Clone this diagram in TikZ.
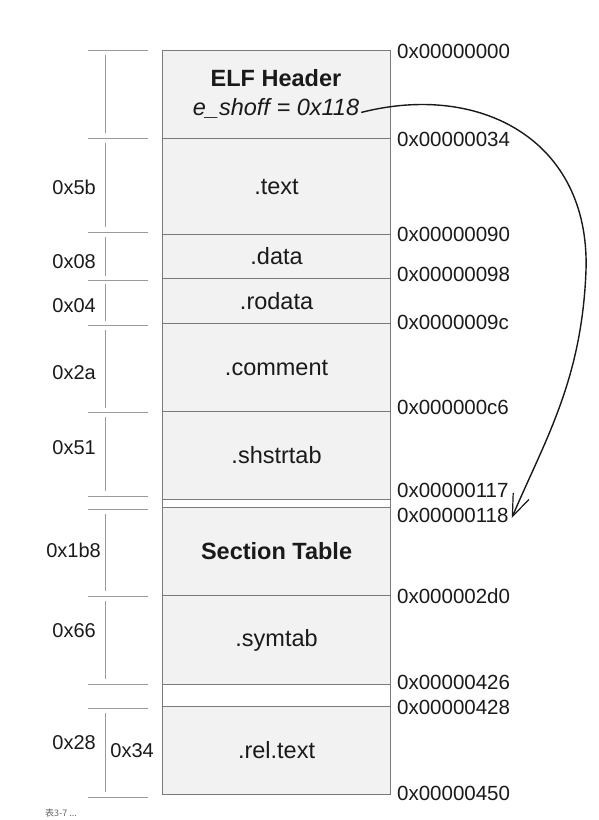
\documentclass[tikz,border=0pt]{standalone}
\usepackage{fontspec}
\setmainfont{Liberation Sans}
\newfontfamily\cjk{Noto Sans CJK SC}
\usetikzlibrary{arrows.meta}
\definecolor{boxfill}{HTML}{F2F2F2}
\definecolor{boxline}{HTML}{7A7A7A}
\definecolor{dimline}{HTML}{9A9A9A}
\definecolor{txt}{HTML}{1A1A1A}
\begin{document}
\begin{tikzpicture}[x=1pt,y=-1pt,
  sec/.style={draw=boxline, line width=1.1pt, fill=boxfill, minimum width=228pt,
    inner sep=0pt, anchor=north west, font=\fontsize{23.5}{28}\selectfont, text=txt},
  gapbox/.style={sec, fill=white},
  lbl/.style={inner sep=0pt, font=\fontsize{23.5}{28}\selectfont, text=txt},
  addr/.style={anchor=west, inner sep=0pt, font=\fontsize{20.5}{24}\selectfont, text=txt},
  dimlbl/.style={anchor=east, inner sep=0pt, font=\fontsize{20}{24}\selectfont, text=txt},
  tickline/.style={draw=dimline, line width=1pt},
  ptr/.style={draw=black!90, line width=1.4pt, -{Straight Barb[length=22pt,width=17pt,line width=1.2pt]}},
]
\useasboundingbox (0,0) rectangle (598,820);

% sections
\node[sec, minimum height=88pt] (hdr) at (162,50) {};
\node[sec, minimum height=96pt] (text) at (162,138) {.text};
\node[sec, minimum height=44pt] (data) at (162,234) {.data};
\node[sec, minimum height=45pt] (rodata) at (162,278) {.rodata};
\node[sec, minimum height=88pt] (comment) at (162,323) {.comment};
\node[sec, minimum height=88pt] (shstrtab) at (162,411) {.shstrtab};
\node[gapbox, minimum height=8pt] (gapa) at (162,499) {};
\node[sec, minimum height=88pt, font=\fontsize{23.5}{28}\selectfont\bfseries] (sectab) at (162,507) {Section Table};
\node[sec, minimum height=89pt] (symtab) at (162,595) {.symtab};
\node[gapbox, minimum height=22pt] (gapb) at (162,684) {};
\node[sec, minimum height=88pt] (reltext) at (162,706) {.rel.text};

\node[lbl, font=\fontsize{23.5}{28}\selectfont\bfseries] (elf) at (276,78) {ELF Header};
\node[lbl, inner sep=2pt, font=\fontsize{23.5}{28}\selectfont\itshape] (shoff) at (276,108) {e\_shoff = 0x118};

% addresses
\node[addr] (a000) at (397,51) {0x00000000};
\node[addr] (a034) at (397,139) {0x00000034};
\node[addr] (a090) at (397,234) {0x00000090};
\node[addr] (a098) at (397,274) {0x00000098};
\node[addr] (a09c) at (397,322) {0x0000009c};
\node[addr] (a0c6) at (397,407) {0x000000c6};
\node[addr] (a117) at (397,490) {0x00000117};
\node[addr] (a118) at (397,515) {0x00000118};
\node[addr] (a2d0) at (397,596) {0x000002d0};
\node[addr] (a426) at (397,682) {0x00000426};
\node[addr] (a428) at (397,707) {0x00000428};
\node[addr] (a450) at (397,793) {0x00000450};

% dimension ticks
\foreach \yy in {50,138,232,280,325,412,496,509,596,684,708,797}
  \draw[tickline] (88,\yy) -- (148,\yy);
\foreach \ya/\yb in {55/133,143/227,237/276,284/321,330/408,417/491,514/591,601/679,713/792}
  \draw[tickline] (105,\ya) -- (105,\yb);

% dimension labels
\node[dimlbl] (d5b) at (96,187) {0x5b};
\node[dimlbl] (d08) at (96,262) {0x08};
\node[dimlbl] (d04) at (96,306) {0x04};
\node[dimlbl] (d2a) at (96,373) {0x2a};
\node[dimlbl] (d51) at (96,448) {0x51};
\node[dimlbl] (d1b8) at (101,550) {0x1b8};
\node[dimlbl] (d66) at (96,631) {0x66};
\node[dimlbl] (d28) at (96,743) {0x28};
\node[dimlbl] (d34) at (154,751) {0x34};

% pointer arrow
\draw[ptr] (shoff.mid east) .. controls (480,82) and (590,140) .. (586,270)
  .. controls (582,380) and (545,440) .. ([shift={(3,3)}]a118.east);

% caption
\node[anchor=west, inner sep=0pt, text=black!60, font=\cjk\fontsize{9}{11}\selectfont] (cap) at (45,813) {表3-7 ...};
\end{tikzpicture}
\end{document}
